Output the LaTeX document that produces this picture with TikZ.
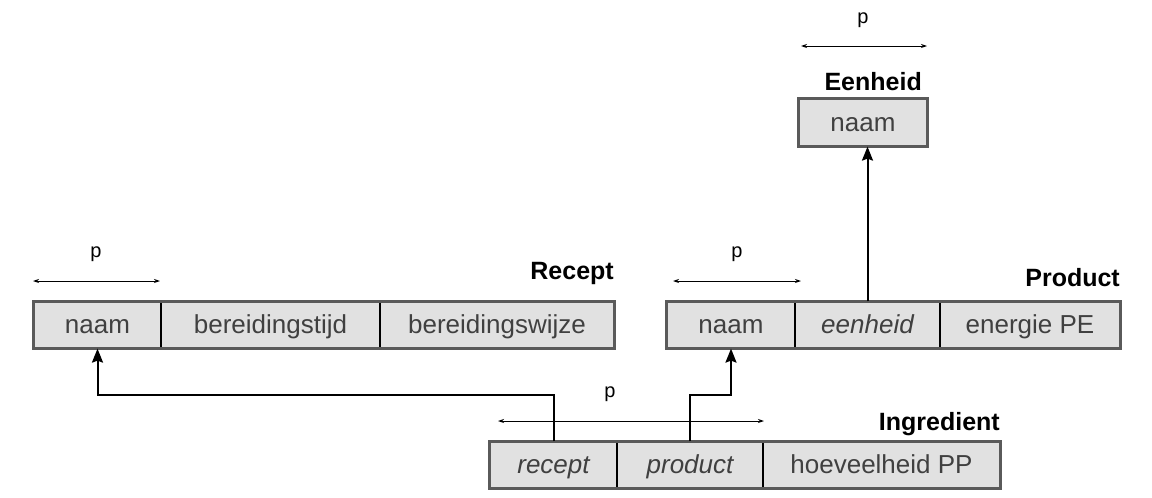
\documentclass[tikz,border=0pt]{standalone}
\usepackage{fontspec}
\setmainfont{Liberation Sans}
\usetikzlibrary{arrows.meta}
\definecolor{cellfill}{HTML}{E1E1E1}
\definecolor{celltext}{HTML}{404040}
\definecolor{frame}{HTML}{5A5A5A}
\tikzset{
  cell/.style={draw=black, line width=1.2pt, fill=cellfill, text=celltext,
    minimum height=46pt, inner sep=0pt, anchor=center,
    text height=20pt, text depth=3pt,
    font=\fontsize{26}{30}\selectfont},
  outer/.style={draw=frame, line width=2.6pt},
  title/.style={font=\bfseries\fontsize{25}{28}\selectfont, anchor=east, inner sep=0pt},
  plabel/.style={font=\fontsize{20}{24}\selectfont, inner sep=0pt},
  pline/.style={line width=0.9pt, {Stealth[length=6pt,width=4pt]}-{Stealth[length=6pt,width=4pt]}},
  conn/.style={line width=2pt, -{Stealth[length=14pt,width=11pt,inset=2pt]}},
}
\begin{document}
\begin{tikzpicture}[x=1pt,y=-1pt]
\useasboundingbox (0,0) rectangle (1152,498);
% Recept
\node[cell, minimum width=127pt] (rnaam) at (97.5,325) {naam};
\node[cell, minimum width=219pt] (rtijd) at (270.5,325) {bereidingstijd};
\node[cell, minimum width=234pt] (rwijze) at (497,325) {bereidingswijze};
\draw[outer] (rnaam.north west) rectangle (rwijze.south east);
\node[title] (trecept) at (614,273) {Recept};
\coordinate (rp1) at (33,281);
\coordinate (rp2) at (160,281);
\draw[pline] (rp1) -- (rp2);
\node[plabel] (rplab) at (96,254) {p};
% Product
\node[cell, minimum width=128pt] (pnaam) at (731,325) {naam};
\node[cell, minimum width=145pt] (pe) at (867.5,325) {\itshape eenheid};
\node[cell, minimum width=180pt] (pen) at (1030,325) {energie PE};
\draw[outer] (pnaam.north west) rectangle (pen.south east);
\node[title] (tproduct) at (1120,278) {Product};
\coordinate (pp1) at (673,281);
\coordinate (pp2) at (801,281);
\draw[pline] (pp1) -- (pp2);
\node[plabel] (pplab) at (737,254) {p};
% Eenheid
\node[cell, minimum width=128pt, minimum height=47pt] (en) at (863,122.5) {naam};
\draw[outer] (en.north west) rectangle (en.south east);
\node[title] (teenheid) at (922,82) {Eenheid};
\coordinate (ep1) at (801,46);
\coordinate (ep2) at (927,46);
\draw[pline] (ep1) -- (ep2);
\node[plabel] (eplab) at (863,20) {p};
% Ingredient
\node[cell, minimum width=127pt] (ir) at (553.5,465) {\itshape recept};
\node[cell, minimum width=146pt] (ip) at (690,465) {\itshape product};
\node[cell, minimum width=237pt] (ih) at (881.5,465) {hoeveelheid PP};
\draw[outer] (ir.north west) rectangle (ih.south east);
\node[title] (tingredient) at (1000,424) {Ingredient};
\coordinate (ip1) at (498,421);
\coordinate (ip2) at (764,421);
\draw[pline] (ip1) -- (ip2);
\node[plabel] (iplab) at (610,394) {p};
% connectors
\draw[conn] (ir.north) -- ++(0,-46) -| (rnaam.south);
\draw[conn] (ip.north) -- ++(0,-46) -| (pnaam.south);
\draw[conn] (pe.north) -- (pe.north |- en.south);
\end{tikzpicture}
\end{document}
